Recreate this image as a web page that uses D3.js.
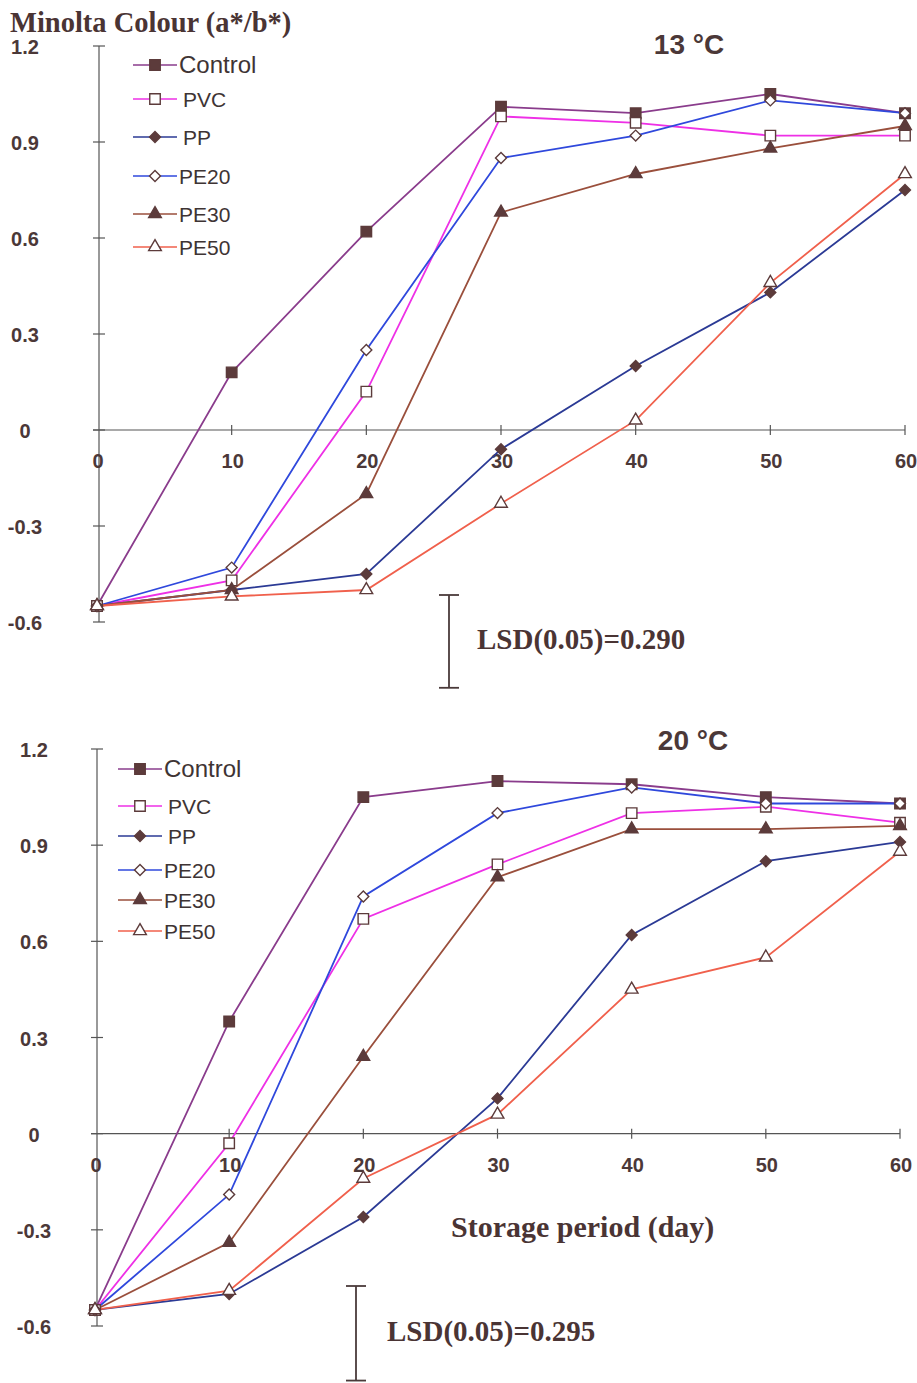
<!DOCTYPE html>
<html>
<head>
<meta charset="utf-8">
<script src="https://cdn.jsdelivr.net/npm/d3@7"></script>
<style>
  body { margin: 0; background: #fff; }
  svg { display: block; }
  .tick-label { font-family: 'Liberation Sans', Arial, sans-serif; font-weight: bold; font-size: 20px; fill: #4b3838; }
  .serif { font-family: 'Liberation Serif', 'Times New Roman', serif; font-weight: bold; fill: #4a3434; }
  .legend text { font-family: 'Liberation Sans', Arial, sans-serif; fill: #3e3434; }
</style>
</head>
<body>
<div id="chart"><svg width="917" height="1383"></svg></div>
<script>
(function () {

const days = [0, 10, 20, 30, 40, 50, 60];
const seriesNames = ['Control', 'PVC', 'PP', 'PE20', 'PE30', 'PE50'];
const yTicks = [1.2, 0.9, 0.6, 0.3, 0, -0.3, -0.6];
const yTickLabels = ['1.2', '0.9', '0.6', '0.3', '0', '-0.3', '-0.6'];
const xTicks = [0, 10, 20, 30, 40, 50, 60];

// 13 °C
const control13 = [-0.55, 0.18, 0.62, 1.01, 0.99, 1.05, 0.99];
const pvc13     = [-0.55, -0.47, 0.12, 0.98, 0.96, 0.92, 0.92];
const pp13      = [-0.55, -0.50, -0.45, -0.06, 0.20, 0.43, 0.75];
const pe20_13   = [-0.55, -0.43, 0.25, 0.85, 0.92, 1.03, 0.99];
const pe30_13   = [-0.55, -0.50, -0.20, 0.68, 0.80, 0.88, 0.95];
const pe50_13   = [-0.55, -0.52, -0.50, -0.23, 0.03, 0.46, 0.80];

// 20 °C
const control20 = [-0.55, 0.35, 1.05, 1.10, 1.09, 1.05, 1.03];
const pvc20     = [-0.55, -0.03, 0.67, 0.84, 1.00, 1.02, 0.97];
const pp20      = [-0.55, -0.50, -0.26, 0.11, 0.62, 0.85, 0.91];
const pe20_20   = [-0.55, -0.19, 0.74, 1.00, 1.08, 1.03, 1.03];
const pe30_20   = [-0.55, -0.34, 0.24, 0.80, 0.95, 0.95, 0.96];
const pe50_20   = [-0.55, -0.49, -0.14, 0.06, 0.45, 0.55, 0.88];

const lsdValues = [0.290, 0.295];

const mapSeriesToColor = {'Control': '#8a3c8c', 'PVC': '#ee30e6', 'PP': '#2b3a95', 'PE20': '#2f48dc', 'PE30': '#9a4f3c', 'PE50': '#f0604c'};
const mapSeriesToSymbol = {'Control': 'square', 'PVC': 'square', 'PP': 'diamond', 'PE20': 'diamond', 'PE30': 'triangle', 'PE50': 'triangle'};
const filledSeries = ['Control', 'PP', 'PE30'];
const markerColor = '#5c3b3b';
const axisColor = '#555';

const svg = d3.select('#chart svg');

const panels = [
  {title: '13 °C', values: [control13, pvc13, pp13, pe20_13, pe30_13, pe50_13], lsd: lsdValues[0],
   x: [97, 905], y: [622, 46], labelX: 25, titleX: 689, titleY: 54,
   legend: {x: 133, y: [65, 99, 137, 176, 214, 247]}, lsdPos: [449, 595], lsdText: [477, 649]},
  {title: '20 °C', values: [control20, pvc20, pp20, pe20_20, pe30_20, pe50_20], lsd: lsdValues[1],
   x: [95, 900], y: [1326, 749], labelX: 34, titleX: 693, titleY: 750,
   legend: {x: 118, y: [769, 806, 836, 870, 900, 931]}, lsdPos: [356, 1286], lsdText: [387, 1341]}
];

function marker(name) {
  const type = mapSeriesToSymbol[name];
  if (type === 'square') return d3.symbol().type(d3.symbolSquare).size(110)();
  if (type === 'triangle') return d3.symbol().type(d3.symbolTriangle).size(70)();
  return d3.symbol().type(d3.symbolSquare).size(60)();
}

function drawMarker(parent, name, cx, cy) {
  const filled = filledSeries.indexOf(name) >= 0;
  parent.append('path')
    .attr('d', marker(name))
    .attr('transform', 'translate(' + cx + ',' + cy + ')' + (mapSeriesToSymbol[name] === 'diamond' ? ' rotate(45)' : ''))
    .attr('fill', filled ? markerColor : '#fff')
    .attr('stroke', markerColor)
    .attr('stroke-width', 1.4);
}

svg.append('text')
  .attr('class', 'serif')
  .attr('x', 10)
  .attr('y', 32)
  .style('font-size', '28.5px')
  .text('Minolta Colour (a*/b*)');

panels.forEach(makePanel);

function makePanel(p) {
  const x = d3.scaleLinear().domain([0, 60]).range(p.x);
  const y = d3.scaleLinear().domain([-0.6, 1.2]).range(p.y);
  const g = svg.append('g');

  // y axis with cross ticks
  g.append('line')
    .attr('x1', x(0) + 2).attr('x2', x(0) + 2)
    .attr('y1', y(1.2)).attr('y2', y(-0.6))
    .attr('stroke', axisColor).attr('stroke-width', 1.2);

  g.selectAll('.ytick')
    .data(yTicks)
    .enter().append('line')
      .attr('class', 'ytick')
      .attr('x1', x(0) - 4).attr('x2', x(0) + 8)
      .attr('y1', function(d) { return y(d); })
      .attr('y2', function(d) { return y(d); })
      .attr('stroke', axisColor).attr('stroke-width', 1.2);

  g.selectAll('.ylabel')
    .data(yTicks)
    .enter().append('text')
      .attr('class', 'tick-label')
      .attr('x', p.labelX)
      .attr('y', function(d) { return y(d) + 8; })
      .attr('text-anchor', 'middle')
      .text(function(d, i) { return yTickLabels[i]; });

  // x axis along zero
  g.append('line')
    .attr('x1', x(0) - 4).attr('x2', x(60))
    .attr('y1', y(0)).attr('y2', y(0))
    .attr('stroke', axisColor).attr('stroke-width', 1.2);

  g.selectAll('.xtick')
    .data(xTicks.slice(1))
    .enter().append('line')
      .attr('x1', function(d) { return x(d); })
      .attr('x2', function(d) { return x(d); })
      .attr('y1', y(0) - 5).attr('y2', y(0) + 5)
      .attr('stroke', axisColor).attr('stroke-width', 1.2);

  g.selectAll('.xlabel')
    .data(xTicks)
    .enter().append('text')
      .attr('class', 'tick-label')
      .attr('x', function(d) { return x(d) + 1; })
      .attr('y', y(0) + 38)
      .attr('text-anchor', 'middle')
      .text(function(d) { return d; });

  // series lines
  const line = d3.line()
    .x(function(d, i) { return x(days[i]); })
    .y(function(d) { return y(d); });

  p.values.forEach(function(vals, s) {
    g.append('path')
      .attr('d', line(vals))
      .attr('fill', 'none')
      .attr('stroke', mapSeriesToColor[seriesNames[s]])
      .attr('stroke-width', 1.8);
  });

  p.values.forEach(function(vals, s) {
    vals.forEach(function(v, i) {
      drawMarker(g, seriesNames[s], x(days[i]), y(v));
    });
  });

  // legend
  const legend = g.append('g').attr('class', 'legend');
  seriesNames.forEach(function(name, i) {
    const ly = p.legend.y[i];
    legend.append('line')
      .attr('x1', p.legend.x).attr('x2', p.legend.x + 44)
      .attr('y1', ly).attr('y2', ly)
      .attr('stroke', mapSeriesToColor[name]).attr('stroke-width', 1.6);
    drawMarker(legend, name, p.legend.x + 22, ly);
    legend.append('text')
      .attr('x', p.legend.x + 46 + (i === 1 || i === 2 ? 4 : 0))
      .attr('y', ly + 8)
      .style('font-size', i === 0 ? '24px' : '21px')
      .text(name);
  });

  // title
  g.append('text')
    .attr('x', p.titleX)
    .attr('y', p.titleY)
    .attr('text-anchor', 'middle')
    .style('font-family', "'Liberation Sans', Arial, sans-serif")
    .style('font-weight', 'bold')
    .style('font-size', '28px')
    .style('fill', '#4b3838')
    .text(p.title);

  // LSD bar, length in data units
  const barLen = y(0) - y(p.lsd);
  const lx = p.lsdPos[0], ly0 = p.lsdPos[1];
  g.append('line')
    .attr('x1', lx).attr('x2', lx).attr('y1', ly0).attr('y2', ly0 + barLen)
    .attr('stroke', '#4a3a3a').attr('stroke-width', 1.8);
  [ly0, ly0 + barLen].forEach(function(cy) {
    g.append('line')
      .attr('x1', lx - 10).attr('x2', lx + 10).attr('y1', cy).attr('y2', cy)
      .attr('stroke', '#4a3a3a').attr('stroke-width', 1.8);
  });
  g.append('text')
    .attr('class', 'serif')
    .attr('x', p.lsdText[0])
    .attr('y', p.lsdText[1])
    .style('font-size', '29px')
    .text('LSD(0.05)=' + p.lsd.toFixed(3));
}

svg.append('text')
  .attr('class', 'serif')
  .attr('x', 451)
  .attr('y', 1237)
  .style('font-size', '30px')
  .text('Storage period (day)');

})();
</script>
</body>
</html>
